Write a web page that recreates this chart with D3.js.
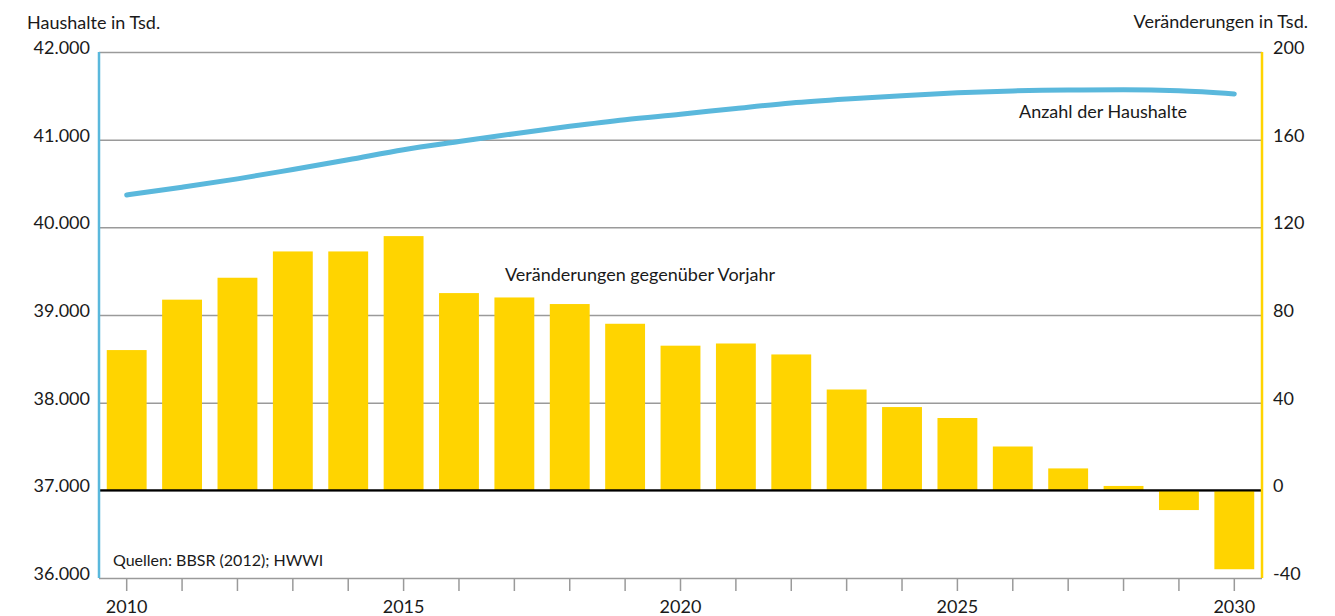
<!DOCTYPE html>
<html>
<head>
<meta charset="utf-8">
<script src="https://cdn.jsdelivr.net/npm/d3@7"></script>
<style>
body { margin: 0; background: white; }
text { font-family: Lato, "Open Sans", sans-serif; fill: #1a1a1a; }
.grid line { stroke: #9a9a9a; stroke-width: 1.5; }
.grid path { display: none; }
</style>
</head>
<body>
<script>

const years = d3.range(2010, 2031);
// Veränderungen gegenüber Vorjahr (Tsd.)
const changes = [64, 87, 97, 109, 109, 116, 90, 88, 85, 76, 66, 67, 62, 46, 38, 33, 20, 10, 2, -9, -36];
// Anzahl der Haushalte (Tsd.)
const households = [40369, 40458, 40553, 40660, 40770, 40885, 40978, 41068, 41152, 41228, 41290, 41356, 41418, 41464, 41502, 41534, 41556, 41566, 41568, 41558, 41522];
const leftTicks = [36000, 37000, 38000, 39000, 40000, 41000, 42000];
const rightTicks = [-40, 0, 40, 80, 120, 160, 200];
const yearLabels = [2010, 2015, 2020, 2025, 2030];

const W = 1335, H = 616;
const m = {left: 99, right: 1262, top: 52, bottom: 578};

const svg = d3.select("body").append("svg").attr("width", W).attr("height", H);

const de = d3.formatLocale({decimal: ",", thousands: ".", grouping: [3], currency: ["", " €"]});
const fmt = de.format(",");

const x = d3.scaleBand().domain(years).range([m.left, m.right]).paddingInner(0.28).paddingOuter(0.14);
const yL = d3.scaleLinear().domain([36000, 42000]).range([m.bottom, m.top]);
const yR = d3.scaleLinear().domain([-40, 200]).range([m.bottom, m.top]);
const cx = d => x(d) + x.bandwidth() / 2;

// gridlines
svg.append("g").attr("class", "grid")
  .attr("transform", `translate(${m.left},0)`)
  .call(d3.axisLeft(yL).tickValues(leftTicks).tickSize(-(m.right - m.left)).tickFormat(""));

// bars
svg.append("g").selectAll("rect").data(years).join("rect")
  .attr("x", d => x(d))
  .attr("width", x.bandwidth())
  .attr("y", (d, i) => yR(Math.max(0, changes[i])))
  .attr("height", (d, i) => Math.abs(yR(changes[i]) - yR(0)))
  .attr("fill", "#ffd400");

// zero line
svg.append("line")
  .attr("x1", m.left).attr("x2", m.right)
  .attr("y1", yR(0)).attr("y2", yR(0))
  .attr("stroke", "black").attr("stroke-width", 2.2);

// households line
const line = d3.line().curve(d3.curveMonotoneX)
  .x((d, i) => cx(years[i]))
  .y(d => yL(d));
svg.append("path").datum(households)
  .attr("fill", "none")
  .attr("stroke", "#5ab8dc")
  .attr("stroke-width", 5)
  .attr("stroke-linecap", "round")
  .attr("d", line);

// x axis ticks
svg.append("g").selectAll("line").data(years).join("line")
  .attr("x1", cx).attr("x2", cx)
  .attr("y1", m.bottom).attr("y2", m.bottom + 13)
  .attr("stroke", "#9a9a9a").attr("stroke-width", 1.5);

svg.append("g").selectAll("text").data(yearLabels).join("text")
  .attr("x", cx).attr("y", m.bottom + 35)
  .attr("text-anchor", "middle")
  .style("font-size", "18px")
  .text(d => d);

// side axes
svg.append("line").attr("x1", m.left).attr("x2", m.left).attr("y1", m.top).attr("y2", m.bottom)
  .attr("stroke", "#5ab8dc").attr("stroke-width", 2.5);
svg.append("line").attr("x1", m.right).attr("x2", m.right).attr("y1", m.top).attr("y2", m.bottom)
  .attr("stroke", "#ffd400").attr("stroke-width", 2.5);

svg.append("g").selectAll("text").data(leftTicks).join("text")
  .attr("x", m.left - 9).attr("y", d => yL(d) + 2)
  .attr("text-anchor", "end")
  .style("font-size", "18px")
  .text(d => fmt(d));

svg.append("g").selectAll("text").data(rightTicks).join("text")
  .attr("x", m.right + 11).attr("y", d => yR(d) + 2)
  .style("font-size", "18px")
  .text(d => d);

// titles and labels
svg.append("text").attr("x", 27).attr("y", 29).style("font-size", "18px").text("Haushalte in Tsd.");
svg.append("text").attr("x", 1308).attr("y", 28).attr("text-anchor", "end").style("font-size", "18px").text("Veränderungen in Tsd.");
svg.append("text").attr("x", 505).attr("y", 281).style("font-size", "18px").text("Veränderungen gegenüber Vorjahr");
svg.append("text").attr("x", 1019).attr("y", 118).style("font-size", "18px").text("Anzahl der Haushalte");
svg.append("text").attr("x", 113).attr("y", 566).style("font-size", "16px").text("Quellen: BBSR (2012); HWWI");

</script>
</body>
</html>
